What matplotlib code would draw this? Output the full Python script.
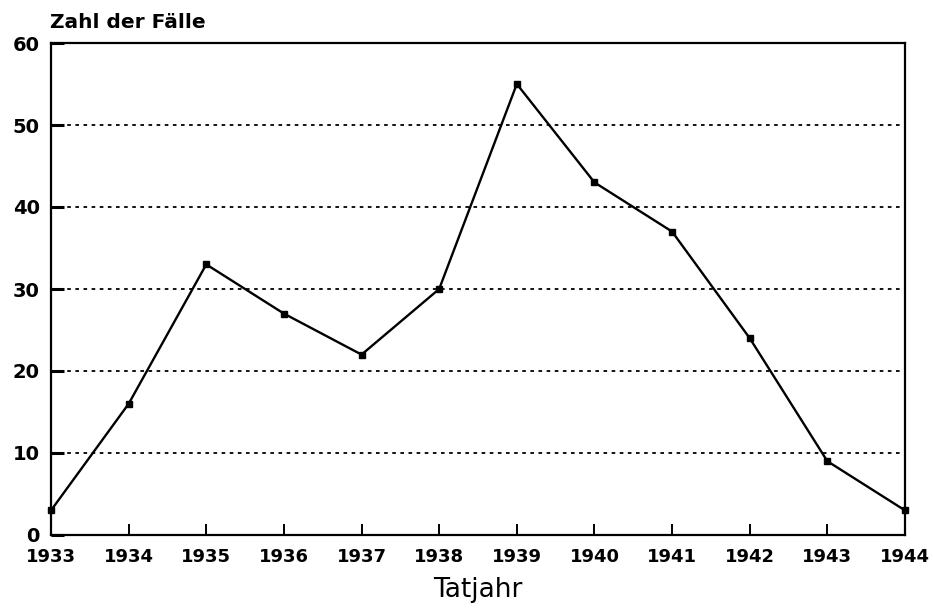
import matplotlib
matplotlib.use("Agg")
import matplotlib.pyplot as plt

# data
years = [1933, 1934, 1935, 1936, 1937, 1938, 1939, 1940, 1941, 1942, 1943, 1944]
cases = [3, 16, 33, 27, 22, 30, 55, 43, 37, 24, 9, 3]
y_ticks = [0, 10, 20, 30, 40, 50, 60]

plt.rcParams['font.family'] = ['DejaVu Sans']

fig = plt.figure(figsize=(9.33, 6.08), dpi=100)
ax = fig.add_axes([51 / 933, 1 - 535 / 608, (905 - 51) / 933, (535 - 43) / 608])

ax.plot(years, cases, color='black', linewidth=1.7, marker='s', markersize=4.5,
        clip_on=False, zorder=3)

ax.set_xlim(years[0], years[-1])
ax.set_ylim(0, 60)
ax.set_xticks(years)
ax.set_yticks(y_ticks)
ax.set_xticklabels([str(y) for y in years], fontsize=13, fontweight='bold')
ax.set_yticklabels([str(v) for v in y_ticks], fontsize=14, fontweight='bold')

# dotted horizontal grid at the inner ticks
for v in y_ticks[1:-1]:
    ax.axhline(v, color='black', linewidth=1.3, linestyle=(0, (2, 2.5)), zorder=1)

ax.tick_params(axis='x', direction='in', length=8, width=1.4, pad=9)
ax.tick_params(axis='y', direction='in', length=9, width=2.2, pad=8)
for side in ax.spines.values():
    side.set_linewidth(1.6)

ax.set_xlabel('Tatjahr', fontsize=19, labelpad=8)
fig.text(50 / 933, 1 - 22 / 608, 'Zahl der Fälle', fontsize=14.5, fontweight='bold',
         va='center', ha='left')

fig.savefig('out.png', dpi=100)
